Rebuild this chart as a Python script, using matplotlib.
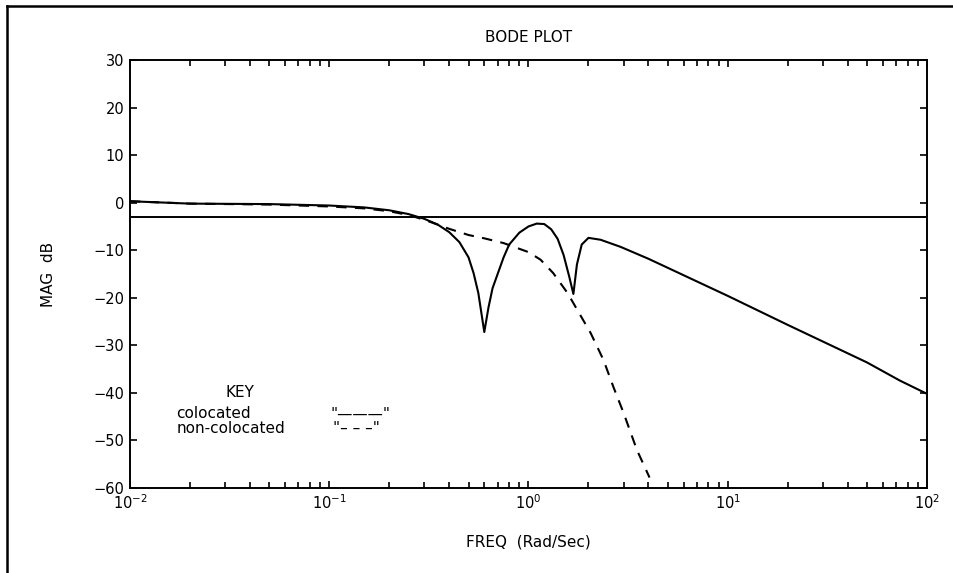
import matplotlib
matplotlib.use("Agg")
import matplotlib.pyplot as plt
from matplotlib.lines import Line2D
from matplotlib.ticker import LogLocator, MultipleLocator

# ---- data ----
freq_colocated = [0.01, 0.02, 0.05, 0.1, 0.15, 0.2, 0.25, 0.3, 0.35, 0.4, 0.45, 0.5,
                  0.53, 0.56, 0.6, 0.63, 0.66, 0.7, 0.75, 0.8, 0.9, 1.0, 1.1, 1.2, 1.3,
                  1.4, 1.5, 1.6, 1.68, 1.75, 1.85, 2.0, 2.3, 2.9, 4.0, 10, 20, 50, 73, 100]
mag_colocated = [0.3, -0.2, -0.3, -0.6, -1.0, -1.6, -2.4, -3.4, -4.6, -6.2, -8.3, -11.5,
                 -14.8, -19.0, -27.2, -22.0, -18.0, -15.0, -11.5, -8.8, -6.3, -5.0, -4.4, -4.5, -5.6,
                 -7.6, -11.0, -15.5, -19.2, -13.0, -8.8, -7.4, -7.8, -9.3, -11.8, -19.6, -25.7, -33.6, -37.4, -40.2]

freq_noncolocated = [0.01, 0.02, 0.05, 0.1, 0.15, 0.2, 0.25, 0.3, 0.4, 0.5, 0.6, 0.75,
                     1.0, 1.15, 1.33, 1.57, 1.76, 2.05, 2.38, 2.67, 3.0, 3.5, 4.05]
mag_noncolocated = [0.3, -0.2, -0.4, -0.8, -1.2, -1.8, -2.6, -3.6, -5.5, -6.8, -7.5, -8.5,
                    -10.4, -12.0, -14.8, -19.0, -22.6, -27.4, -33.1, -38.8, -44.2, -52.0, -57.8]

ref_level = -3.0
x_limits = [1e-2, 1e2]
y_limits = [-60, 30]

title = "BODE PLOT"
xlabel = "FREQ  (Rad/Sec)"
ylabel = "MAG  dB"
key_title = "KEY"
key_names = ["colocated", "non-colocated"]
key_marks = ['"\u2014\u2014\u2014"', '"\u2013 \u2013 \u2013"']

# ---- figure ----
W, H = 954, 573
fig = plt.figure(figsize=(W / 100, H / 100), dpi=100)
plt.rcParams['font.family'] = ['DejaVu Sans']

ax = fig.add_axes([130 / W, 1 - 488 / H, (927 - 130) / W, (488 - 60) / H])
ax.set_xscale("log")
ax.set_xlim(*x_limits)
ax.set_ylim(*y_limits)

ax.plot(freq_colocated, mag_colocated, color="black", lw=1.5)
ax.plot(freq_noncolocated, mag_noncolocated, color="black", lw=1.5, dashes=(5, 4))
ax.axhline(ref_level, color="black", lw=1.4)

for s in ax.spines.values():
    s.set_linewidth(1.4)

ax.yaxis.set_major_locator(MultipleLocator(10))
ax.xaxis.set_major_locator(LogLocator(base=10, numticks=10))
ax.xaxis.set_minor_locator(LogLocator(base=10, subs=range(2, 10), numticks=20))
ax.tick_params(which="both", direction="in", top=True, right=True, width=1.2)
ax.tick_params(which="major", length=5, labelsize=10.5, pad=4)
ax.tick_params(which="minor", length=4)
ax.tick_params(axis="y", pad=4)

ax.set_title(title, fontsize=11, pad=13)
ax.set_xlabel(xlabel, fontsize=11, labelpad=16)
ax.set_ylabel(ylabel, fontsize=11, labelpad=27)

ax.text(0.138, 0.224, key_title, transform=ax.transAxes, fontsize=11, ha="center", va="center")
ax.text(0.058, 0.173, key_names[0], transform=ax.transAxes, fontsize=11, ha="left", va="center")
ax.text(0.058, 0.138, key_names[1], transform=ax.transAxes, fontsize=11, ha="left", va="center")
ax.text(0.251, 0.173, key_marks[0], transform=ax.transAxes, fontsize=11, ha="left", va="center")
ax.text(0.255, 0.138, key_marks[1], transform=ax.transAxes, fontsize=11, ha="left", va="center")

# figure border (top and left edges)
fig.add_artist(Line2D([7 / W, 1.0], [1 - 6 / H, 1 - 6 / H], transform=fig.transFigure,
                      color="black", lw=1.8))
fig.add_artist(Line2D([7 / W, 7 / W], [1 - 6 / H, 0.0], transform=fig.transFigure,
                      color="black", lw=1.8))

fig.savefig("out.png", dpi=100, facecolor="white")
